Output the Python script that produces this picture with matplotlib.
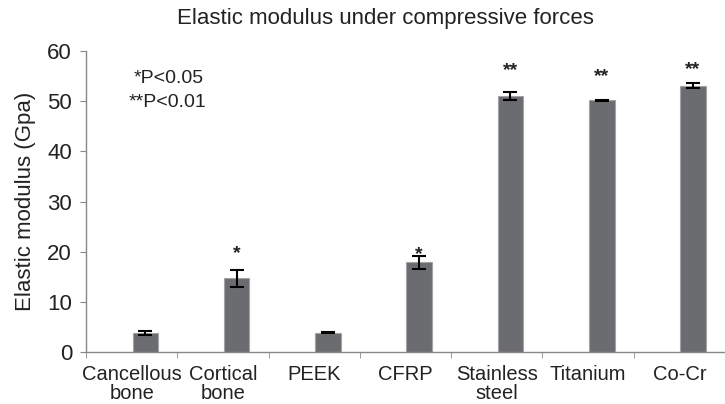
import numpy as np
import matplotlib.pyplot as plt

plt.rcParams['font.family'] = ['Liberation Sans', 'DejaVu Sans']

categories = ['Cancellous\nbone', 'Cortical\nbone', 'PEEK', 'CFRP', 'Stainless\nsteel', 'Titanium', 'Co-Cr']
modulus = [3.7, 14.7, 3.85, 17.9, 51.0, 50.2, 53.1]
errors = [0.4, 1.65, 0.15, 1.3, 0.85, 0.1, 0.45]
sig = ['', '*', '', '*', '**', '**', '**']
sig_y = [0, 19.6, 0, 19.4, 56.0, 55.0, 56.2]

fig = plt.figure(figsize=(7.25, 4.04), dpi=100)
ax = fig.add_axes([86/725, 52/404, 639/725, 301/404])

x = np.arange(len(categories))
bar_x = x + 0.15
ax.bar(bar_x, modulus, width=0.28, color='#6b6c6f', edgecolor='#a3a3a5', linewidth=0.8, zorder=2)
ax.errorbar(bar_x, modulus, yerr=errors, fmt='none', ecolor='black', elinewidth=1.5,
            capsize=5, capthick=1.5, zorder=3)

for bx, s, sy in zip(bar_x, sig, sig_y):
    if s:
        ax.text(bx, sy, s, ha='center', va='center', fontsize=14, fontweight='bold', color='#222222')

# significance key
ax.text(0.41, 54.6, '*P<0.05', ha='center', va='center', fontsize=14, color='#222222')
ax.text(0.39, 49.8, '**P<0.01', ha='center', va='center', fontsize=14, color='#222222')

ax.set_xlim(-0.5, 6.37)
ax.set_ylim(0, 60)
ax.set_yticks(np.arange(0, 61, 10))
ax.set_xticks(x)
ax.set_xticklabels(categories, fontsize=14.5, color='#222222', linespacing=1.05)
ax.set_xticks(np.arange(-0.5, 7, 1), minor=True)
ax.tick_params(axis='x', which='major', length=0, pad=9)
ax.tick_params(axis='x', which='minor', length=4, color='#888888', direction='out')
ax.tick_params(axis='y', length=4, color='#888888', labelsize=16, labelcolor='#222222', pad=6)

for sp in ['top', 'right']:
    ax.spines[sp].set_visible(False)
for sp in ['left', 'bottom']:
    ax.spines[sp].set_color('#888888')
    ax.spines[sp].set_linewidth(1)

ax.set_ylabel('Elastic modulus (Gpa)', fontsize=16, color='#222222', labelpad=8)
fig.text(0.532, 0.955, 'Elastic modulus under compressive forces', ha='center', va='center',
         fontsize=16, color='#222222')

fig.savefig('out.png', dpi=100)
